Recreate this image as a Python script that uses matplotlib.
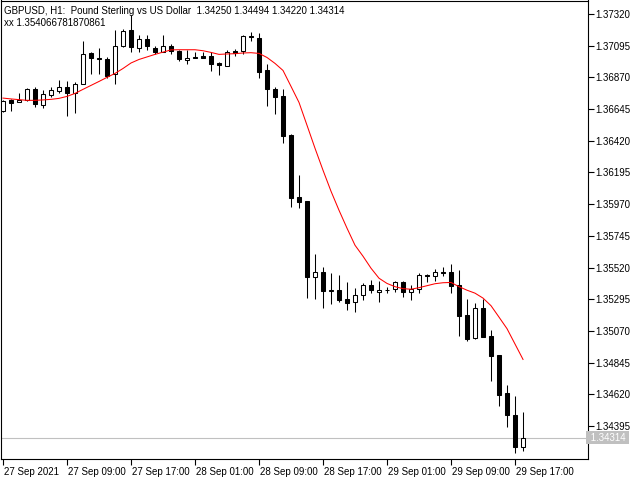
import matplotlib
matplotlib.use("Agg")
import matplotlib.pyplot as plt
import matplotlib.transforms as mtransforms
import numpy as np

# ---- data (GBPUSD H1, 27 Sep 01:00 .. 29 Sep 18:00) ----
opens = [1.36628, 1.36711, 1.36695, 1.36706, 1.36784, 1.36670, 1.36743, 1.36769, 1.36803, 1.36757,
         1.36824, 1.37041, 1.37008, 1.37001, 1.36890, 1.37090, 1.37202, 1.37076, 1.37138, 1.37079,
         1.37048, 1.37090, 1.37053, 1.36994, 1.37010, 1.37018, 1.37018, 1.36970, 1.36949, 1.37055,
         1.37053, 1.37161, 1.37150, 1.36918, 1.36789, 1.36734, 1.36463, 1.36018, 1.35990, 1.35453,
         1.35485, 1.35354, 1.35359, 1.35295, 1.35272, 1.35324, 1.35395, 1.35343, 1.35363, 1.35366,
         1.35414, 1.35347, 1.35371, 1.35466, 1.35458, 1.35489, 1.35485, 1.35395, 1.35182, 1.35017,
         1.35230, 1.35033, 1.34899, 1.34627, 1.34473, 1.34250]
highs = [1.36706, 1.36718, 1.36755, 1.36791, 1.36798, 1.36777, 1.36800, 1.36847, 1.36840, 1.36833,
         1.37124, 1.37046, 1.37074, 1.37010, 1.37207, 1.37209, 1.37308, 1.37173, 1.37173, 1.37088,
         1.37171, 1.37103, 1.37065, 1.37065, 1.37048, 1.37048, 1.37046, 1.36975, 1.37065, 1.37072,
         1.37166, 1.37190, 1.37183, 1.36961, 1.36800, 1.36784, 1.36465, 1.36174, 1.35991, 1.35619,
         1.35524, 1.35478, 1.35466, 1.35418, 1.35378, 1.35407, 1.35430, 1.35425, 1.35383, 1.35425,
         1.35425, 1.35395, 1.35478, 1.35473, 1.35506, 1.35524, 1.35548, 1.35501, 1.35300, 1.35269,
         1.35300, 1.35076, 1.34900, 1.34686, 1.34608, 1.34494]
lows = [1.36621, 1.36630, 1.36691, 1.36699, 1.36656, 1.36649, 1.36729, 1.36757, 1.36592, 1.36616,
        1.36819, 1.36890, 1.36890, 1.36862, 1.36819, 1.37081, 1.37048, 1.37048, 1.37060, 1.37037,
        1.37046, 1.37037, 1.36984, 1.36961, 1.37007, 1.37004, 1.36913, 1.36883, 1.36947, 1.37020,
        1.37037, 1.37126, 1.36867, 1.36665, 1.36606, 1.36403, 1.35950, 1.35942, 1.35307, 1.35300,
        1.35230, 1.35260, 1.35276, 1.35218, 1.35201, 1.35288, 1.35336, 1.35276, 1.35336, 1.35347,
        1.35312, 1.35293, 1.35336, 1.35414, 1.35425, 1.35461, 1.35336, 1.35033, 1.35000, 1.35015,
        1.35026, 1.34716, 1.34539, 1.34390, 1.34206, 1.34220]
closes = [1.36699, 1.36687, 1.36709, 1.36784, 1.36677, 1.36748, 1.36777, 1.36803, 1.36755, 1.36819,
          1.37037, 1.37008, 1.37000, 1.36876, 1.37090, 1.37197, 1.37083, 1.37138, 1.37088, 1.37048,
          1.37093, 1.37055, 1.37001, 1.37008, 1.37008, 1.37005, 1.36966, 1.36959, 1.37048, 1.37041,
          1.37159, 1.37152, 1.36906, 1.36786, 1.36729, 1.36453, 1.36013, 1.35985, 1.35453, 1.35485,
          1.35354, 1.35357, 1.35288, 1.35269, 1.35324, 1.35395, 1.35364, 1.35364, 1.35361, 1.35414,
          1.35347, 1.35371, 1.35466, 1.35458, 1.35489, 1.35482, 1.35388, 1.35177, 1.35012, 1.35230,
          1.35028, 1.34894, 1.34615, 1.34473, 1.34249, 1.34314]
xx_line = [1.36722, 1.36716, 1.36711, 1.36706, 1.36706, 1.36709, 1.36713, 1.36720, 1.36734, 1.36755,
           1.36784, 1.36812, 1.36840, 1.36869, 1.36897, 1.36932, 1.36971, 1.36996, 1.37014, 1.37032,
           1.37048, 1.37064, 1.37065, 1.37065, 1.37065, 1.37058, 1.37046, 1.37032, 1.37035, 1.37037,
           1.37042, 1.37044, 1.37039, 1.37010, 1.36968, 1.36918, 1.36805, 1.36691, 1.36529, 1.36366,
           1.36210, 1.36061, 1.35926, 1.35799, 1.35678, 1.35600, 1.35515, 1.35444, 1.35407, 1.35384,
           1.35370, 1.35366, 1.35377, 1.35391, 1.35405, 1.35412, 1.35414, 1.35384, 1.35359, 1.35338,
           1.35303, 1.35249, 1.35168, 1.35086, 1.34977, 1.34868]
ytick_labels = ["1.37320", "1.37095", "1.36870", "1.36645", "1.36420", "1.36195", "1.35970",
                "1.35745", "1.35520", "1.35295", "1.35070", "1.34845", "1.34620", "1.34395"]
xtick_pos = [0, 8, 16, 24, 32, 40, 48, 56, 64]
xtick_labels = ["27 Sep 2021", "27 Sep 09:00", "27 Sep 17:00", "28 Sep 01:00", "28 Sep 09:00",
                "28 Sep 17:00", "29 Sep 01:00", "29 Sep 09:00", "29 Sep 17:00"]
title_text = "GBPUSD, H1:  Pound Sterling vs US Dollar  1.34250 1.34494 1.34220 1.34314"
xx_text = "xx 1.354066781870861"
last_price = 1.34314

FONT = "Liberation Sans"
FS = 7

fig = plt.figure(figsize=(6.4, 4.8), dpi=100)
W, H = 640, 480
ax = fig.add_axes([0.5 / W, 21 / H, 587 / W, 458.5 / H])

o = np.array(opens); h = np.array(highs); l = np.array(lows); c = np.array(closes)
x = np.arange(len(o))
lw = 0.75
ax.vlines(x, l, h, color="black", linewidth=lw, zorder=2)
up = c >= o
bottoms = np.minimum(o, c)
heights = np.maximum(np.abs(c - o), 0.000012)
ax.bar(x[up], heights[up], bottom=bottoms[up], width=0.55, facecolor="white",
       edgecolor="black", linewidth=lw, zorder=3)
ax.bar(x[~up], heights[~up], bottom=bottoms[~up], width=0.55, facecolor="black",
       edgecolor="black", linewidth=lw, zorder=3)

ax.plot(x, xx_line, color="#ff0000", linewidth=0.75, zorder=4)

ax.axhline(last_price, color="#c0c0c0", linewidth=0.8, zorder=1)

ax.set_xlim(-0.3125, 73.06)
ax.set_ylim(1.341615, 1.374143)

ax.yaxis.tick_right()
ax.set_yticks([float(t) for t in ytick_labels])
ax.set_yticklabels(ytick_labels, fontsize=FS, family=FONT)
ax.tick_params(axis="y", direction="out", length=4, width=0.8, pad=1.5, colors="black")

ax.set_xticks(xtick_pos)
ax.set_xticklabels(xtick_labels, fontsize=FS, family=FONT)
ax.tick_params(axis="x", direction="out", length=4, width=0.8, pad=1.5, colors="black")
offset = mtransforms.ScaledTranslation(1 / 100, 0, fig.dpi_scale_trans)
for lab in ax.get_xticklabels():
    lab.set_horizontalalignment("left")
    lab.set_transform(lab.get_transform() + offset)

for s in ax.spines.values():
    s.set_color("black")
    s.set_linewidth(0.8)

# current price label on the price scale
ax.text(1.0, last_price, " 1.34314 ", transform=ax.get_yaxis_transform(),
        ha="left", va="center", fontsize=FS, family=FONT, color="white",
        bbox=dict(boxstyle="square,pad=0.15", facecolor="#c0c0c0", edgecolor="none"),
        clip_on=False, zorder=10)

ax.text(4 / 587, 1 - 10 / 458.5, title_text, transform=ax.transAxes, ha="left", va="center",
        fontsize=FS, family=FONT, color="black")
ax.text(4 / 587, 1 - 22 / 458.5, xx_text, transform=ax.transAxes, ha="left", va="center",
        fontsize=FS, family=FONT, color="black")

fig.savefig("out.png", dpi=100, facecolor="white")
